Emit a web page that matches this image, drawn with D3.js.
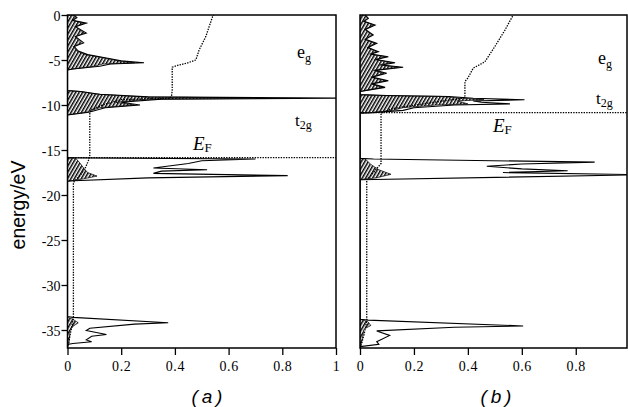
<!DOCTYPE html>
<html>
<head>
<meta charset="utf-8">
<script src="https://cdn.jsdelivr.net/npm/d3@7"></script>
<style>
  body { margin: 0; background: #fff; }
  svg { display: block; }
</style>
</head>
<body>
<div id="chart"></div>
<script>
// Values: each pair is [energy in eV, DOS value]

const energyTicks = [0, -5, -10, -15, -20, -25, -30, -35];
const dosTicksA = [0, 0.2, 0.4, 0.6, 0.8, 1];
const dosTicksB = [0, 0.2, 0.4, 0.6, 0.8];

// panel (a): total DOS outline
const totalA = [
  [0, 0.025], [-0.3, 0.035], [-0.6, 0.02], [-0.9, 0.07], [-1.3, 0.03], [-2.0, 0.07],
  [-2.4, 0.03], [-3.1, 0.06], [-3.5, 0.025], [-4.0, 0.04], [-4.4, 0.075], [-4.8, 0.15],
  [-5.1, 0.2], [-5.3, 0.285], [-5.45, 0.16], [-5.7, 0.12], [-6.0, 0.02], [-6.1, 0],
  [-8.4, 0], [-8.5, 0.05], [-8.8, 0.12], [-9.1, 0.3], [-9.25, 1.05], [-9.35, 0.35],
  [-9.7, 0.2], [-10.0, 0.27], [-10.3, 0.14], [-10.8, 0.08], [-11.1, 0],
  [-15.85, 0], [-15.88, 0.05], [-16.0, 0.70], [-16.2, 0.5], [-16.5, 0.45], [-17.0, 0.32],
  [-17.2, 0.52], [-17.35, 0.35], [-17.6, 0.32], [-17.85, 0.82], [-18.1, 0.3], [-18.45, 0],
  [-33.5, 0], [-33.6, 0.02], [-34.2, 0.375], [-34.35, 0.25], [-34.8, 0.083], [-35.05, 0.07],
  [-35.5, 0.145], [-35.7, 0.09], [-36.1, 0.07], [-36.3, 0.09], [-36.5, 0.02], [-36.6, 0],
  [-37, 0]
];

// panel (a): hatched partial DOS
const partialA = [
  [0, 0.02], [-0.3, 0.03], [-0.6, 0.018], [-0.9, 0.062], [-1.3, 0.028], [-2.0, 0.062],
  [-2.4, 0.028], [-3.1, 0.052], [-3.5, 0.022], [-4.0, 0.035], [-4.4, 0.068], [-4.8, 0.14],
  [-5.1, 0.19], [-5.3, 0.25], [-5.45, 0.13], [-5.7, 0.1], [-6.0, 0.02], [-6.1, 0],
  [-8.4, 0], [-8.5, 0.045], [-8.8, 0.11], [-9.1, 0.28], [-9.25, 0.74], [-9.35, 0.3],
  [-9.7, 0.18], [-10.0, 0.25], [-10.3, 0.12], [-10.8, 0.07], [-11.1, 0],
  [-15.85, 0], [-15.9, 0.03], [-16.4, 0.045], [-17.0, 0.06], [-17.5, 0.075], [-17.9, 0.11],
  [-18.2, 0.06], [-18.5, 0],
  [-33.6, 0], [-33.8, 0.02], [-34.2, 0.04], [-34.6, 0.02], [-35.0, 0.01], [-36.5, 0.005],
  [-37, 0]
];

// panel (a): integrated DOS (dotted)
const idosA = [
  [-37, 0], [-36.5, 0.004], [-35.5, 0.01], [-34.5, 0.017], [-33.6, 0.022], [-18.6, 0.022],
  [-18.2, 0.035], [-17.6, 0.053], [-17.0, 0.066], [-16.4, 0.075], [-16.0, 0.08], [-15.6, 0.083],
  [-10.9, 0.083], [-10.5, 0.09], [-10.0, 0.13], [-9.4, 0.2], [-9.25, 0.38], [-9.1, 0.387],
  [-8.4, 0.39], [-5.8, 0.39], [-5.6, 0.41], [-5.3, 0.45], [-5.0, 0.478], [-3.9, 0.49],
  [-2.4, 0.515], [-0.2, 0.54], [0, 0.545]
];

const fermiA = -15.85;

// panel (b): total DOS outline
const totalB = [
  [0, 0.02], [-0.37, 0.031], [-0.7, 0.015], [-1.11, 0.056], [-1.6, 0.02], [-2.22, 0.049],
  [-2.7, 0.02], [-3.15, 0.062], [-3.6, 0.03], [-4.07, 0.068], [-4.35, 0.04], [-4.63, 0.105],
  [-4.95, 0.06], [-5.3, 0.13], [-5.55, 0.08], [-5.81, 0.16], [-6.15, 0.056], [-6.48, 0.099],
  [-6.9, 0.045], [-7.3, 0.105], [-7.65, 0.045], [-8.04, 0.093], [-8.35, 0.03], [-8.5, 0],
  [-8.85, 0], [-8.95, 0.1], [-9.05, 0.33], [-9.25, 0.42], [-9.42, 0.61], [-9.55, 0.42],
  [-9.7, 0.45], [-9.88, 0.556], [-10.0, 0.35], [-10.3, 0.2], [-10.6, 0.16], [-10.85, 0.05],
  [-10.9, 0],
  [-15.93, 0], [-16.0, 0.05], [-16.35, 0.87], [-16.55, 0.6], [-16.8, 0.47], [-17.1, 0.6],
  [-17.3, 0.77], [-17.5, 0.53], [-17.75, 1.05], [-18.3, 0],
  [-33.8, 0], [-33.9, 0.03], [-34.55, 0.605], [-34.7, 0.35], [-35.1, 0.062], [-35.6, 0.11],
  [-36.3, 0.062], [-36.6, 0.07], [-36.85, 0], [-37, 0]
];

// panel (b): hatched partial DOS
const partialB = [
  [0, 0.018], [-0.37, 0.028], [-0.7, 0.013], [-1.11, 0.05], [-1.6, 0.018], [-2.22, 0.044],
  [-2.7, 0.018], [-3.15, 0.056], [-3.6, 0.027], [-4.07, 0.061], [-4.35, 0.036], [-4.63, 0.095],
  [-4.95, 0.054], [-5.3, 0.117], [-5.55, 0.072], [-5.81, 0.144], [-6.15, 0.05], [-6.48, 0.089],
  [-6.9, 0.04], [-7.3, 0.095], [-7.65, 0.04], [-8.04, 0.084], [-8.35, 0.027], [-8.5, 0],
  [-8.85, 0], [-8.95, 0.08], [-9.05, 0.3], [-9.25, 0.38], [-9.42, 0.46], [-9.55, 0.36],
  [-9.7, 0.38], [-9.88, 0.4], [-10.0, 0.28], [-10.3, 0.16], [-10.6, 0.12], [-10.85, 0.04],
  [-10.9, 0],
  [-15.93, 0], [-16.0, 0.02], [-16.6, 0.04], [-17.2, 0.07], [-17.7, 0.115], [-18.1, 0.06],
  [-18.3, 0],
  [-33.8, 0], [-34.1, 0.03], [-34.5, 0.04], [-34.9, 0.015], [-36.5, 0.005], [-37, 0]
];

// panel (b): integrated DOS (dotted)
const idosB = [
  [-37, 0], [-36.5, 0.006], [-35.5, 0.015], [-34.5, 0.022], [-34.0, 0.025], [-18.3, 0.025],
  [-17.5, 0.05], [-16.5, 0.078], [-15.9, 0.078], [-10.9, 0.078], [-10.4, 0.12], [-9.8, 0.25],
  [-9.3, 0.37], [-9.15, 0.389], [-7.4, 0.389], [-7.0, 0.4], [-5.9, 0.42], [-5.2, 0.463],
  [-3.5, 0.5], [-1.7, 0.537], [0, 0.568]
];

const fermiB = -10.85;


// Layout constants
const C = {
  width: 628,
  height: 407,
  y_top: 15,
  y_bottom: 348,
  energy_domain: [-37, 0],
  frame_width: 1.5,
  line_width: 1.1,
  serif: '"Liberation Serif", "Times New Roman", serif',
  sans: '"Liberation Sans", Arial, sans-serif',
};

const panels = [
  {
    id: 'a', left: 67.5, right: 336, dos_max: 1,
    total: totalA, partial: partialA, idos: idosA, fermi: fermiA, ticks: dosTicksA,
    y_axis: true, caption_x: 207,
    eg: [297, 58], t2g: [295, 126], ef: [193, 150],
  },
  {
    id: 'b', left: 360, right: 627, dos_max: 0.99,
    total: totalB, partial: partialB, idos: idosB, fermi: fermiB, ticks: dosTicksB,
    y_axis: false, caption_x: 496,
    eg: [598, 64], t2g: [596, 104], ef: [493, 132],
  },
];


const svg = d3.select('#chart').append('svg')
  .attr('width', C.width)
  .attr('height', C.height);

const defs = svg.append('defs');

// diagonal hatching for the partial DOS
defs.append('pattern')
  .attr('id', 'hatch')
  .attr('patternUnits', 'userSpaceOnUse')
  .attr('width', 3)
  .attr('height', 3)
  .attr('patternTransform', 'rotate(30)')
  .append('line')
  .attr('x1', 0.75).attr('y1', 0)
  .attr('x2', 0.75).attr('y2', 3)
  .attr('stroke', '#000')
  .attr('stroke-width', 1.5);

const Y = d3.scaleLinear()
  .domain(C.energy_domain)
  .range([C.y_bottom, C.y_top]);


function draw_panel(p){
  const X = d3.scaleLinear()
    .domain([0, p.dos_max])
    .range([p.left, p.right]);

  defs.append('clipPath')
    .attr('id', 'clip-' + p.id)
    .append('rect')
    .attr('x', p.left)
    .attr('y', C.y_top)
    .attr('width', p.right - p.left)
    .attr('height', C.y_bottom - C.y_top);

  const g = svg.append('g');
  const plot = g.append('g').attr('clip-path', `url(#clip-${p.id})`);

  // hatched partial DOS
  const area = d3.area()
    .y(d => Y(d[0]))
    .x0(X(0))
    .x1(d => X(d[1]));

  plot.append('path')
    .datum(p.partial)
    .attr('d', area)
    .attr('fill', 'url(#hatch)')
    .attr('stroke', '#000')
    .attr('stroke-width', 0.7);

  // total DOS outline
  const line = d3.line()
    .x(d => X(d[1]))
    .y(d => Y(d[0]));

  plot.append('path')
    .datum(p.total)
    .attr('d', line)
    .attr('fill', 'none')
    .attr('stroke', '#000')
    .attr('stroke-width', C.line_width);

  // integrated DOS, dotted
  plot.append('path')
    .datum(p.idos)
    .attr('d', line)
    .attr('fill', 'none')
    .attr('stroke', '#000')
    .attr('stroke-width', 1.3)
    .attr('stroke-dasharray', '1.4,1.2');

  // Fermi level
  plot.append('line')
    .attr('x1', X(0)).attr('x2', p.right)
    .attr('y1', Y(p.fermi)).attr('y2', Y(p.fermi))
    .attr('stroke', '#000')
    .attr('stroke-width', 1.3)
    .attr('stroke-dasharray', '1.4,1.2');

  // frame
  g.append('rect')
    .attr('x', p.left)
    .attr('y', C.y_top)
    .attr('width', p.right - p.left)
    .attr('height', C.y_bottom - C.y_top)
    .attr('fill', 'none')
    .attr('stroke', '#000')
    .attr('stroke-width', C.frame_width);

  // bottom axis
  const x_axis = g.append('g')
    .attr('transform', `translate(0,${C.y_bottom})`)
    .call(d3.axisBottom(X).tickValues(p.ticks).tickSize(7).tickPadding(6)
      .tickFormat(d => d3.format('~g')(d)));
  x_axis.select('.domain').remove();
  x_axis.selectAll('line').attr('stroke-width', 1.3).attr('stroke', '#000');
  x_axis.selectAll('text')
    .attr('font-family', C.serif)
    .attr('font-size', 14)
    .attr('letter-spacing', 0.6)
    .attr('fill', '#000');

  if(p.y_axis){
    const y_axis = g.append('g')
      .attr('transform', `translate(${p.left},0)`)
      .call(d3.axisLeft(Y).tickValues(energyTicks).tickSize(6).tickPadding(1)
        .tickFormat(d => d === 0 ? '0' : '-' + Math.abs(d)));
    y_axis.select('.domain').remove();
    y_axis.selectAll('line').attr('stroke-width', 1.3).attr('stroke', '#000');
    y_axis.selectAll('text')
      .attr('font-family', C.serif)
      .attr('font-size', 14)
      .attr('dy', '0.42em')
      .attr('fill', '#000');
  }

  // labels inside the panel
  const eg = g.append('text')
    .attr('x', p.eg[0]).attr('y', p.eg[1])
    .attr('font-family', C.serif).attr('font-size', 18)
    .text('e');
  eg.append('tspan').attr('font-size', 12).attr('dy', 4).text('g');

  const t2g = g.append('text')
    .attr('x', p.t2g[0]).attr('y', p.t2g[1])
    .attr('font-family', C.serif).attr('font-size', 17)
    .text('t');
  t2g.append('tspan').attr('font-size', 12).attr('dy', 3).text('2g');

  const ef = g.append('text')
    .attr('x', p.ef[0]).attr('y', p.ef[1])
    .attr('font-family', C.serif).attr('font-size', 19)
    .attr('font-style', 'italic')
    .text('E');
  ef.append('tspan').attr('font-size', 13).attr('font-style', 'normal').attr('dy', 2).text('F');

  // panel caption
  g.append('text')
    .attr('x', p.caption_x).attr('y', 403)
    .attr('text-anchor', 'middle')
    .attr('font-family', C.sans).attr('font-size', 19)
    .attr('font-style', 'italic')
    .text(`(\u2009${p.id}\u2009)`);
}

panels.forEach(draw_panel);

// y axis title
svg.append('text')
  .attr('transform', 'translate(25,205) rotate(-90)')
  .attr('text-anchor', 'middle')
  .attr('font-family', C.sans)
  .attr('font-size', 19.5)
  .text('energy/eV');
</script>
</body>
</html>
